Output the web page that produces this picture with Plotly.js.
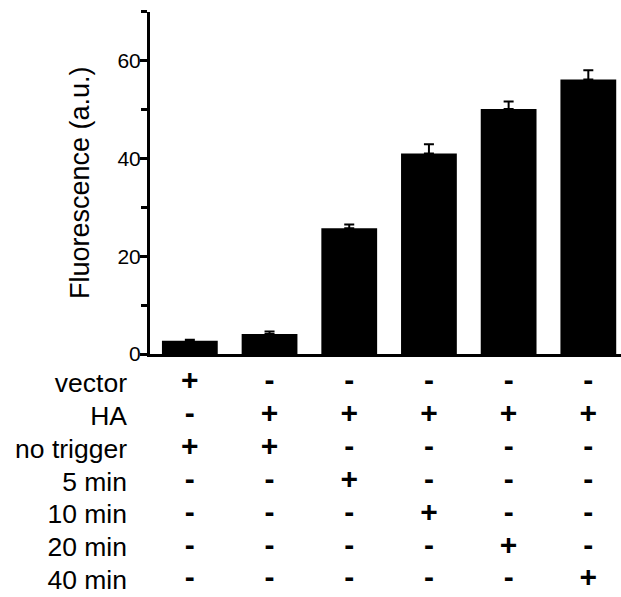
<!DOCTYPE html>
<html>
<head>
<meta charset="utf-8">
<script src="https://cdn.plot.ly/plotly-3.0.1.min.js"></script>
<style>html,body{margin:0;padding:0;background:#fff;}#chart{width:621px;height:597px;}</style>
</head>
<body>
<div id="chart"></div>
<script>
// ---- data ----
const conditions = ["vector", "HA", "HA 5 min", "HA 10 min", "HA 20 min", "HA 40 min"];
const fluorescence = [2.7, 4.1, 25.7, 41.0, 50.1, 56.1];
const errUp = [0.2, 0.5, 0.8, 1.9, 1.5, 1.9];
const errDown = [0, 0, 0, 0, 0, 0];
const yTicks = [0, 20, 40, 60];

const rowLabels = ["vector", "HA", "no trigger", "5 min", "10 min", "20 min", "40 min"];
const rowVector    = ["+", "-", "-", "-", "-", "-"];
const rowHA        = ["-", "+", "+", "+", "+", "+"];
const rowNoTrigger = ["+", "+", "-", "-", "-", "-"];
const row5min      = ["-", "-", "+", "-", "-", "-"];
const row10min     = ["-", "-", "-", "+", "-", "-"];
const row20min     = ["-", "-", "-", "-", "+", "-"];
const row40min     = ["-", "-", "-", "-", "-", "+"];
const tableRows = [rowVector, rowHA, rowNoTrigger, row5min, row10min, row20min, row40min];

// build table trace
const tx = [], ty = [], tt = [];
tableRows.forEach((row, r) => {
  row.forEach((s, c) => { tx.push(conditions[c]); ty.push(r); tt.push(s); });
});

const FONT = "Liberation Sans, Arial, Helvetica, sans-serif";

const bars = {
  type: "bar",
  x: conditions,
  y: fluorescence,
  marker: {color: "#000", line: {width: 0}},
  error_y: {type: "data", symmetric: false, array: errUp, arrayminus: errDown,
            color: "#000", thickness: 2, width: 5},
  xaxis: "x", yaxis: "y",
  hoverinfo: "none"
};

const table = {
  type: "scatter",
  mode: "text",
  x: tx, y: ty, text: tt,
  textposition: "middle center",
  textfont: {family: FONT, size: 30, color: "#000", weight: "bold"},
  xaxis: "x", yaxis: "y2",
  hoverinfo: "none"
};

const layout = {
  width: 621, height: 597,
  margin: {l: 0, r: 0, t: 0, b: 0},
  paper_bgcolor: "#fff", plot_bgcolor: "#fff",
  showlegend: false,
  font: {family: FONT, color: "#000"},
  bargap: 0.3,
  xaxis: {
    domain: [150/621, 1],
    type: "category",
    range: [-0.5, 5.41],
    showline: true, linewidth: 3, linecolor: "#000",
    ticks: "", showticklabels: false, showgrid: false, zeroline: false,
    anchor: "y", fixedrange: true
  },
  yaxis: {
    domain: [0.407, 0.9806],
    range: [0, 70],
    tickmode: "array", tickvals: yTicks,
    ticks: "outside", ticklen: 7, tickwidth: 3, tickcolor: "#000",
    minor: {dtick: 10, tick0: 0, ticks: "outside", ticklen: 6, tickwidth: 3, tickcolor: "#000", showgrid: false},
    showline: true, linewidth: 3, linecolor: "#000",
    showgrid: false, zeroline: false,
    tickfont: {size: 21, color: "#000"},
    ticklabelstandoff: -5,
    title: {text: "Fluorescence (a.u.)", font: {size: 27, color: "#000"}, standoff: 20},
    anchor: "x", fixedrange: true
  },
  yaxis2: {
    domain: [0.001, 0.3865],
    range: [6.5, -0.5],
    tickmode: "array", tickvals: rowLabels.map((_, i) => i), ticktext: rowLabels,
    ticks: "", showline: false, showgrid: false, zeroline: false,
    tickfont: {size: 26.5, color: "#000"},
    ticklabelstandoff: 22,
    anchor: "x", fixedrange: true
  }
};

Plotly.newPlot("chart", [bars, table], layout, {displayModeBar: false, staticPlot: true});
</script>
</body>
</html>
